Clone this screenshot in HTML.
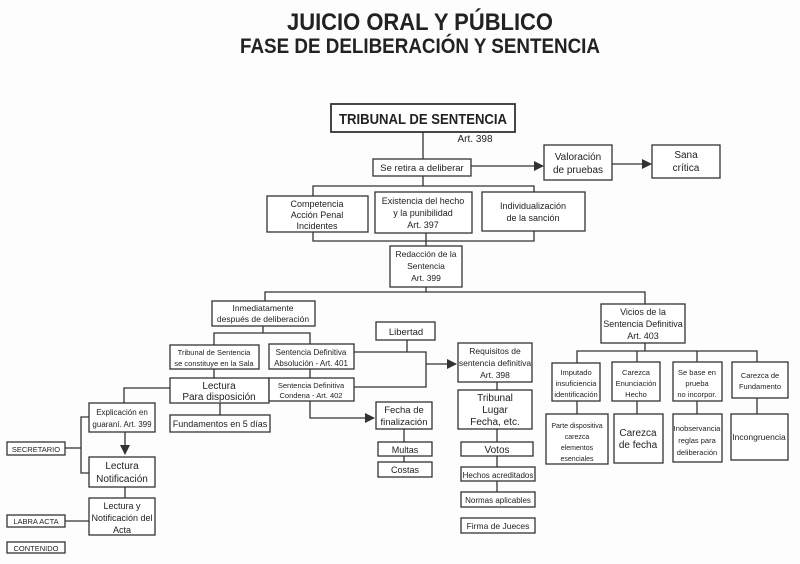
<!DOCTYPE html>
<html><head><meta charset="utf-8"><style>
html,body{margin:0;padding:0;background:#fdfdfd;}
svg{display:block}
text{font-family:"Liberation Sans",sans-serif;fill:#222;}
</style></head><body>
<svg width="800" height="564" viewBox="0 0 800 564" xmlns="http://www.w3.org/2000/svg">
<defs><marker id="a" markerWidth="10" markerHeight="10" refX="9" refY="5" orient="auto" markerUnits="userSpaceOnUse"><path d="M0,0 L10,5 L0,10 z" fill="#333"/></marker></defs>
<rect width="800" height="564" fill="#fdfdfd"/>
<text x="420" y="30" font-size="24" font-weight="bold" text-anchor="middle" textLength="266" lengthAdjust="spacingAndGlyphs">JUICIO ORAL Y PÚBLICO</text>
<text x="420" y="53" font-size="21" font-weight="bold" text-anchor="middle" textLength="360" lengthAdjust="spacingAndGlyphs">FASE DE DELIBERACIÓN Y SENTENCIA</text>

<g fill="none" stroke="#333" stroke-width="1.3">
<line x1="423" y1="132" x2="423" y2="159"/>
<line x1="471" y1="166" x2="543" y2="166" marker-end="url(#a)"/>
<line x1="612" y1="164" x2="651" y2="164" marker-end="url(#a)"/>
<line x1="423" y1="176" x2="423" y2="186"/>
<polyline points="313,196 313,186 534,186 534,192"/>
<polyline points="313,232 313,241 534,241 534,231"/>
<line x1="426" y1="233" x2="426" y2="246"/>
<line x1="426" y1="287" x2="426" y2="292"/>
<polyline points="265,301 265,292 645,292 645,304"/>
<line x1="263" y1="326" x2="263" y2="333"/>
<polyline points="214,345 214,333 310,333 310,344"/>
<line x1="214" y1="369" x2="214" y2="378"/>
<line x1="310" y1="369" x2="310" y2="378"/>
<line x1="220" y1="403" x2="220" y2="415"/>
<polyline points="170,388 124,388 124,403"/>
<line x1="125" y1="432" x2="125" y2="454" marker-end="url(#a)"/>
<line x1="125" y1="487" x2="125" y2="498"/>
<polyline points="89,417 81,417 81,473 89,473"/>
<line x1="65" y1="448" x2="81" y2="448"/>
<line x1="65" y1="521" x2="89" y2="521"/>
<polyline points="354,352 426,352 426,387 354,387"/>
<line x1="407" y1="340" x2="407" y2="352"/>
<line x1="426" y1="364" x2="456" y2="364" marker-end="url(#a)"/>
<polyline points="310,401 310,418 374,418" marker-end="url(#a)"/>
<line x1="404" y1="429" x2="404" y2="442"/>
<line x1="404" y1="456" x2="404" y2="462"/>
<line x1="497" y1="382" x2="497" y2="390"/>
<line x1="497" y1="429" x2="497" y2="442"/>
<line x1="497" y1="456" x2="497" y2="467"/>
<line x1="497" y1="481" x2="497" y2="492"/>
<line x1="645" y1="343" x2="645" y2="351"/>
<polyline points="577,363 577,351 757,351 757,362"/>
<line x1="637" y1="351" x2="637" y2="362"/>
<line x1="697" y1="351" x2="697" y2="363"/>
<line x1="577" y1="401" x2="577" y2="414"/>
<line x1="637" y1="401" x2="637" y2="414"/>
<line x1="697" y1="401" x2="697" y2="414"/>
<line x1="757" y1="398" x2="757" y2="414"/>
</g>

<g fill="#fff" stroke="#333" stroke-width="1.3">
<rect x="331" y="104" width="184" height="28" stroke-width="1.8"/>
<rect x="373" y="159" width="98" height="17"/>
<rect x="544" y="145" width="68" height="35"/>
<rect x="652" y="145" width="68" height="33"/>
<rect x="267" y="196" width="101" height="36"/>
<rect x="375" y="192" width="97" height="41"/>
<rect x="482" y="192" width="103" height="39"/>
<rect x="390" y="246" width="72" height="41"/>
<rect x="212" y="301" width="103" height="25"/>
<rect x="170" y="345" width="89" height="24"/>
<rect x="269" y="344" width="85" height="25"/>
<rect x="170" y="378" width="99" height="25"/>
<rect x="269" y="378" width="85" height="23"/>
<rect x="170" y="415" width="100" height="17"/>
<rect x="89" y="403" width="66" height="29"/>
<rect x="89" y="457" width="66" height="30"/>
<rect x="89" y="498" width="66" height="37"/>
<rect x="7" y="442" width="58" height="13"/>
<rect x="7" y="515" width="58" height="12"/>
<rect x="7" y="542" width="58" height="11"/>
<rect x="376" y="322" width="59" height="18"/>
<rect x="376" y="402" width="56" height="27"/>
<rect x="378" y="442" width="54" height="14"/>
<rect x="378" y="462" width="54" height="15"/>
<rect x="458" y="343" width="74" height="39"/>
<rect x="458" y="390" width="74" height="39"/>
<rect x="461" y="442" width="72" height="14"/>
<rect x="461" y="467" width="74" height="14"/>
<rect x="461" y="492" width="74" height="15"/>
<rect x="461" y="518" width="74" height="15"/>
<rect x="601" y="304" width="84" height="39"/>
<rect x="552" y="363" width="48" height="38"/>
<rect x="612" y="362" width="48" height="39"/>
<rect x="673" y="362" width="49" height="39"/>
<rect x="732" y="362" width="56" height="36"/>
<rect x="546" y="414" width="62" height="50"/>
<rect x="614" y="414" width="49" height="49"/>
<rect x="673" y="414" width="49" height="48"/>
<rect x="731" y="414" width="57" height="46"/>
</g>

<g font-size="10" text-anchor="middle">
<text x="423" y="124" font-size="15" font-weight="bold" textLength="168" lengthAdjust="spacingAndGlyphs">TRIBUNAL DE SENTENCIA</text>
<text x="475" y="142">Art. 398</text>
<text x="422" y="171" font-size="9.5">Se retira a deliberar</text>
<text x="578" y="160">Valoración</text><text x="578" y="173">de pruebas</text>
<text x="686" y="158">Sana</text><text x="686" y="171">crítica</text>
<text x="317" y="207" font-size="9">Competencia</text><text x="317" y="218" font-size="9">Acción Penal</text><text x="317" y="229" font-size="9">Incidentes</text>
<text x="423" y="204" font-size="9">Existencia del hecho</text><text x="423" y="216" font-size="9">y la punibilidad</text><text x="423" y="228" font-size="9">Art. 397</text>
<text x="533" y="209" font-size="9">Individualización</text><text x="533" y="221" font-size="9">de la sanción</text>
<text x="426" y="257" font-size="8.5">Redacción de la</text><text x="426" y="269" font-size="8.5">Sentencia</text><text x="426" y="281" font-size="8.5">Art. 399</text>
<text x="263" y="311" font-size="8.5">Inmediatamente</text><text x="263" y="322" font-size="8.5">después de deliberación</text>
<text x="214" y="355" font-size="7.5">Tribunal de Sentencia</text><text x="214" y="366" font-size="7.5">se constituye en la Sala</text>
<text x="311" y="355" font-size="8">Sentencia Definitiva</text><text x="311" y="366" font-size="8">Absolución - Art. 401</text>
<text x="219" y="389">Lectura</text><text x="219" y="400">Para disposición</text>
<text x="311" y="388" font-size="7.5">Sentencia Definitiva</text><text x="311" y="398" font-size="7.5">Condena - Art. 402</text>
<text x="220" y="427" font-size="9">Fundamentos en 5 días</text>
<text x="122" y="415" font-size="8">Explicación en</text><text x="122" y="427" font-size="8">guaraní. Art. 399</text>
<text x="122" y="469">Lectura</text><text x="122" y="482">Notificación</text>
<text x="122" y="509" font-size="9">Lectura y</text><text x="122" y="521" font-size="9">Notificación del</text><text x="122" y="533" font-size="9">Acta</text>
<text x="36" y="452" font-size="7.5">SECRETARIO</text>
<text x="36" y="524" font-size="7.5">LABRA ACTA</text>
<text x="36" y="551" font-size="7.5">CONTENIDO</text>
<text x="406" y="335" font-size="9.5">Libertad</text>
<text x="404" y="413" font-size="9.5">Fecha de</text><text x="404" y="425" font-size="9.5">finalización</text>
<text x="405" y="453" font-size="9">Multas</text>
<text x="405" y="473" font-size="9">Costas</text>
<text x="495" y="354" font-size="8.5">Requisitos de</text><text x="495" y="366" font-size="8.5">sentencia definitiva</text><text x="495" y="378" font-size="8.5">Art. 398</text>
<text x="495" y="401">Tribunal</text><text x="495" y="413">Lugar</text><text x="495" y="425">Fecha, etc.</text>
<text x="497" y="453">Votos</text>
<text x="498" y="478" font-size="8">Hechos acreditados</text>
<text x="498" y="503" font-size="8">Normas aplicables</text>
<text x="498" y="529" font-size="8.5">Firma de Jueces</text>
<text x="643" y="315" font-size="9">Vicios de la</text><text x="643" y="327" font-size="9">Sentencia Definitiva</text><text x="643" y="339" font-size="9">Art. 403</text>
<text x="576" y="375" font-size="7.5">Imputado</text><text x="576" y="386" font-size="7.5">insuficiencia</text><text x="576" y="397" font-size="7.5">identificación</text>
<text x="636" y="375" font-size="7.5">Carezca</text><text x="636" y="386" font-size="7.5">Enunciación</text><text x="636" y="397" font-size="7.5">Hecho</text>
<text x="697" y="375" font-size="7.5">Se base en</text><text x="697" y="386" font-size="7.5">prueba</text><text x="697" y="397" font-size="7.5">no incorpor.</text>
<text x="760" y="378" font-size="7.5">Carezca de</text><text x="760" y="389" font-size="7.5">Fundamento</text>
<text x="577" y="428" font-size="7">Parte dispositiva</text><text x="577" y="439" font-size="7">carezca</text><text x="577" y="450" font-size="7">elementos</text><text x="577" y="461" font-size="7">esenciales</text>
<text x="638" y="436">Carezca</text><text x="638" y="448">de fecha</text>
<text x="697" y="431" font-size="7.5">Inobservancia</text><text x="697" y="443" font-size="7.5">reglas para</text><text x="697" y="455" font-size="7.5">deliberación</text>
<text x="759" y="440" font-size="8.5">Incongruencia</text>
</g>
</svg>
</body></html>
